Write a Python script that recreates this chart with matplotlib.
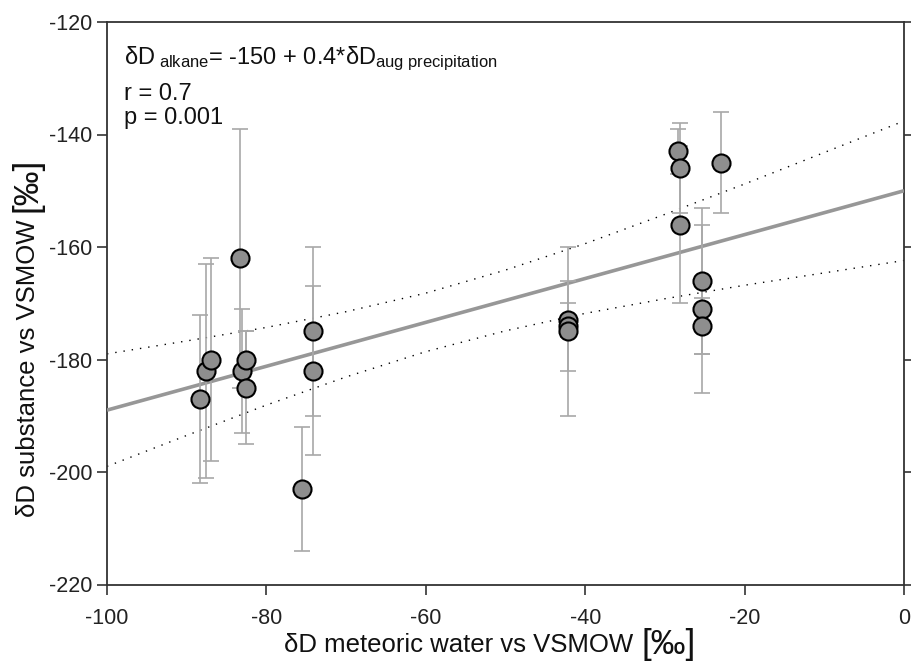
import matplotlib
matplotlib.use("Agg")
import matplotlib.pyplot as plt

plt.rcParams['font.family'] = ['Liberation Sans', 'DejaVu Sans']
plt.rcParams['mathtext.fontset'] = 'custom'
plt.rcParams['mathtext.rm'] = 'Liberation Sans'
plt.rcParams['mathtext.it'] = 'Liberation Sans:italic'
plt.rcParams['axes.unicode_minus'] = False

# data
x_vals = [-88.3, -87.6, -87.0, -83.3, -83.1, -82.6, -82.6, -75.5, -74.1, -74.1,
          -42.2, -42.2, -42.2, -28.4, -28.1, -28.1, -25.4, -25.4, -25.4, -23.0]
y_vals = [-187, -182, -180, -162, -182, -180, -185, -203, -175, -182,
          -173, -174, -175, -143, -146, -156, -166, -171, -174, -145]
y_err = [15, 19, 18, 23, 11, 5, 10, 11, 15, 15,
         3, 8, 15, 4, 8, 14, 13, 15, 5, 9]

# regression line and confidence band
reg_x = [-100, 0]
reg_y = [-189.0, -150.0]
band_x = [-100, -90, -80, -70, -60, -50, -40, -30, -20, -10, 0]
band_upper = [-179.0, -176.7, -174.3, -171.5, -168.2, -164.1, -159.4, -154.2, -148.8, -143.2, -137.6]
band_lower = [-199.0, -193.5, -188.1, -183.1, -178.6, -174.9, -171.8, -169.2, -166.8, -164.6, -162.4]

x_ticks = [-100, -80, -60, -40, -20, 0]
y_ticks = [-220, -200, -180, -160, -140, -120]

W, H = 911, 661
fig = plt.figure(figsize=(W/100, H/100), dpi=100)
ax = fig.add_axes([107/W, 1-584.5/H, (904-107)/W, (584.5-22)/H])

ax.plot(band_x, band_upper, color='black', lw=1.0, ls=(0, (1, 5)), zorder=2)
ax.plot(band_x, band_lower, color='black', lw=1.0, ls=(0, (1, 5)), zorder=2)
ax.plot(reg_x, reg_y, color='#979797', lw=2.6, solid_capstyle='butt', zorder=3)

ax.errorbar(x_vals, y_vals, yerr=y_err, fmt='none', ecolor='#a8a8a8',
            elinewidth=1.2, capsize=5.5, capthick=1.2, zorder=4)
ax.plot(x_vals, y_vals, 'o', ms=13, mfc='#8e8e8e', mec='black', mew=1.5,
        ls='none', zorder=5)

ax.set_xlim(-100, 0)
ax.set_ylim(-220, -120)
ax.set_xticks(x_ticks)
ax.set_yticks(y_ticks)
ax.tick_params(axis='both', direction='out', length=7, width=1.2,
               labelsize=15.5, color='#333333', labelcolor='#222222')
ax.tick_params(axis='y', right=True, left=True)
ax.tick_params(axis='x', pad=10)
for s in ax.spines.values():
    s.set_linewidth(1.3)
    s.set_color('#333333')

# annotation (baselines in pixels converted to axes fraction)
def yfrac(py):
    return 1 - (py - 22) / 562.5

tx = (124 - 107) / 797
ax.text(tx, yfrac(64), r'δD$_{\mathrm{\ alkane}}$= -150 + 0.4*δD$_{\mathrm{aug\ precipitation}}$',
        transform=ax.transAxes, fontsize=17, va='baseline', ha='left', color='#111111')
ax.text(tx, yfrac(100), 'r = 0.7', transform=ax.transAxes, fontsize=17,
        va='baseline', ha='left', color='#111111')
ax.text(tx, yfrac(124), 'p = 0.001', transform=ax.transAxes, fontsize=17,
        va='baseline', ha='left', color='#111111')

# axis labels
xl = fig.text(284/W, 1-652/H, 'δD meteoric water vs VSMOW', fontsize=18.5,
              ha='left', va='baseline', color='#111111')
fig.canvas.draw()
bb = xl.get_window_extent()
fig.text((bb.x1 + 8)/W, 1-654/H, '[‰]', fontsize=25, ha='left',
         va='baseline', color='#111111')

yl = fig.text(35/W, 1-517/H, 'δD substance vs VSMOW', fontsize=18.5,
              rotation=90, rotation_mode='anchor', ha='left', va='baseline',
              color='#111111')
fig.canvas.draw()
bb2 = yl.get_window_extent()
fig.text(37/W, (bb2.y1 + 8)/H, '[‰]', fontsize=25, rotation=90,
         rotation_mode='anchor', ha='left', va='baseline', color='#111111')

fig.savefig('out.png', dpi=100)
